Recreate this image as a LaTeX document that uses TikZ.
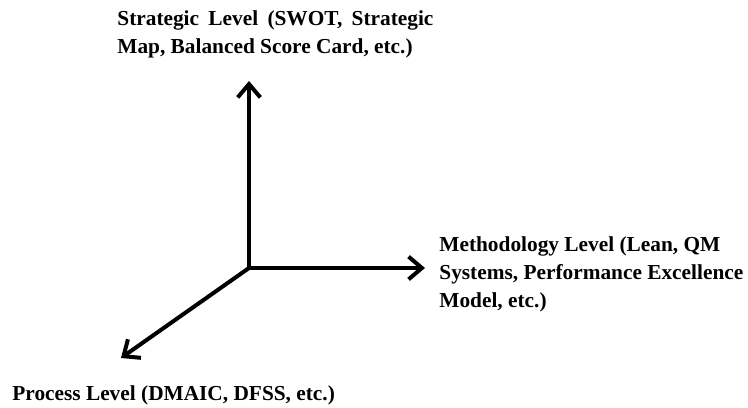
\documentclass[tikz,border=0pt]{standalone}
\usepackage{fontspec}
\setmainfont{Liberation Serif}
\usetikzlibrary{arrows.meta,positioning,calc}

\begin{document}
\begin{tikzpicture}[x=0.75pt,y=-0.75pt,>={Straight Barb[length=10pt,width=17pt,line width=3pt]},semithick]
	\tikzstyle{axis} = [->,line width=3pt,line cap=round,line join=round]
	\tikzstyle{lbl} = [inner sep=0pt,font=\bfseries\fontsize{16}{21}\selectfont]
	\useasboundingbox (0,0) rectangle (748,407);
	
	\coordinate (O) at (249,268);
	\coordinate (T1) at (249,81);
	\coordinate (T2) at (425,268);
	\coordinate (T3) at (121,358);
	
	\node[lbl,anchor=north west,text width=237pt,align=justify] (L1) at (117,10) {Strategic Level (SWOT, Strategic\linebreak Map, Balanced Score Card, etc.)};
	\node[lbl,anchor=north west,align=left] (L2) at (439,236) {Methodology Level (Lean, QM\\ Systems, Performance Excellence\\ Model, etc.)};
	\node[lbl,anchor=north west] (L3) at (12,385) {Process Level (DMAIC, DFSS, etc.)};
	
	\draw[axis] (O) -- (T1);
	\draw[axis] (O) -- (T2);
	\draw[axis] (O) -- (T3);
\end{tikzpicture}
\end{document}
